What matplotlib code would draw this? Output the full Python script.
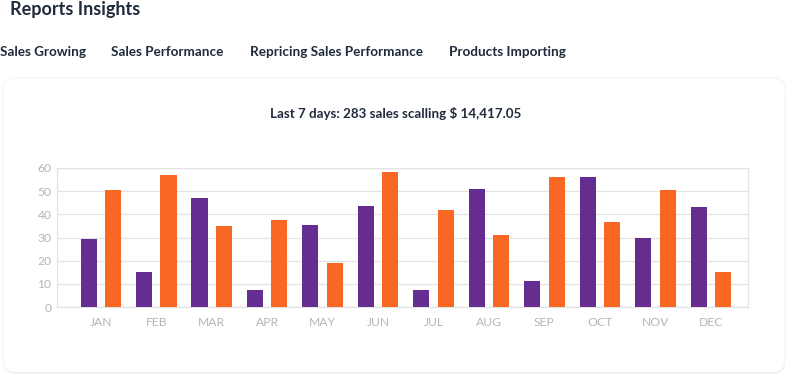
import matplotlib.pyplot as plt
import numpy as np
from matplotlib.patches import FancyBboxPatch

# === DATA ===
months = ['JAN', 'FEB', 'MAR', 'APR', 'MAY', 'JUN',
          'JUL', 'AUG', 'SEP', 'OCT', 'NOV', 'DEC']
series_a = [29.5, 15, 47, 7.5, 35.4, 43.5, 7.5, 50.9, 11.3, 56.2, 29.6, 43.1]
series_b = [50.6, 56.8, 34.8, 37.6, 18.9, 58.4, 41.9, 30.9, 56.2, 36.6, 50.6, 15]
yticks = [0, 10, 20, 30, 40, 50, 60]
tabs = ['Sales Growing', 'Sales Performance', 'Repricing Sales Performance', 'Products Importing']
tab_x = [0, 111, 250, 449]

# === STYLE ===
purple = '#662d91'
orange = '#f96823'
dark = '#1f2a3c'
grid_c = '#e3e3e3'
tick_c = '#b5b5b5'
plt.rcParams['font.family'] = ['Lato', 'DejaVu Sans']

W, H = 789, 377
fig = plt.figure(figsize=(W / 100, H / 100), dpi=100)
fig.patch.set_facecolor('white')

# card behind the chart
bg = fig.add_axes([0, 0, 1, 1])
bg.set_xlim(0, W)
bg.set_ylim(H, 0)
bg.axis('off')
shadow = FancyBboxPatch((4, 80), 781, 294, boxstyle='round,pad=0,rounding_size=12',
                        facecolor='#eeeeee', edgecolor='none')
card = FancyBboxPatch((3, 78), 782, 294, boxstyle='round,pad=0,rounding_size=12',
                      facecolor='white', edgecolor='#f4f4f4', linewidth=0.8)
bg.add_patch(shadow)
bg.add_patch(card)

bg.text(10, 9, 'Reports Insights', fontsize=13, fontweight='bold', color=dark,
        ha='left', va='center')
for t, x in zip(tabs, tab_x):
    bg.text(x, 52, t, fontsize=9.7, fontweight='bold', color=dark, ha='left', va='center')
bg.text(396, 113, 'Last 7 days: 283 sales scalling $ 14,417.05', fontsize=9.6,
        fontweight='bold', color=dark, ha='center', va='center')

# === BAR CHART ===
left, right, top, bottom = 57, 748, 168, 307
ax = fig.add_axes([left / W, 1 - bottom / H, (right - left) / W, (bottom - top) / H])
x = np.arange(len(months))
bw = 0.29
ax.bar(x - 0.22, series_a, bw, color=purple, zorder=3)
ax.bar(x + 0.22, series_b, bw, color=orange, zorder=3)

ax.set_xlim(-0.79, 11.67)
ax.set_ylim(0, 60)
ax.set_yticks(yticks)
ax.set_xticks(x)
ax.set_xticklabels(months)
ax.yaxis.grid(True, color=grid_c, linewidth=0.9, zorder=0)
for s in ax.spines.values():
    s.set_color(grid_c)
    s.set_linewidth(0.9)
ax.tick_params(axis='both', length=0, colors=tick_c, labelsize=8.7)
ax.tick_params(axis='x', pad=7)
ax.tick_params(axis='y', pad=4)

fig.savefig('out.png', dpi=100, facecolor='white')
